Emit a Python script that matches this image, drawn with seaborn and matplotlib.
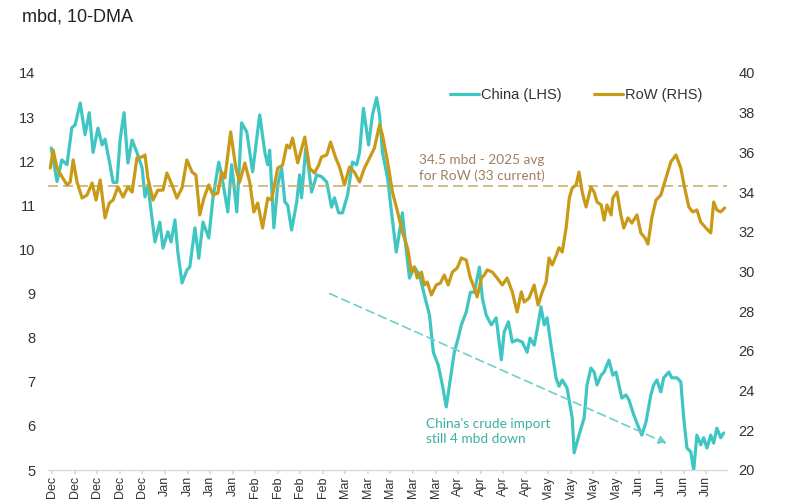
import matplotlib
matplotlib.use("Agg")
import matplotlib.pyplot as plt
import seaborn as sns
import pandas as pd

# ---------------- data ----------------
title = "mbd, 10-DMA"
month_ticks = ["Dec"] * 5 + ["Jan"] * 4 + ["Feb"] * 4 + ["Mar"] * 5 + ["Apr"] * 4 + ["May"] * 4 + ["Jun"] * 4

# days since Mon 2 Dec 2024
china_day = [-0.3, 1.5, 3.0, 4.6, 6.1, 7.1, 8.7, 10.2, 11.5, 12.7, 14.2, 15.5, 16.4, 18.0, 18.9, 20.1,
             21.1, 22.3, 23.5, 24.8, 26.3, 27.9, 28.8, 29.7, 31.9, 33.4, 34.4, 35.9, 36.9, 38.1, 39.0,
             40.3, 41.8, 42.7, 44.3, 45.5, 46.8, 48.6, 49.9, 51.7, 52.6, 54.5, 55.7, 57.3, 58.8, 60.4,
             62.2, 64.4, 66.0, 66.9, 67.5, 68.8, 70.0, 71.2, 72.2, 73.1, 74.3, 75.9, 76.8, 77.4, 78.7,
             79.6, 80.5, 82.1, 83.6, 85.2, 86.7, 87.6, 88.9, 90.1, 91.7, 93.2, 94.5, 95.4, 96.6, 98.2,
             99.4, 100.7, 101.6, 102.5, 104.1, 105.3, 106.8, 107.8, 108.7, 109.6, 110.9, 112.4, 114.0,
             115.5, 117.1, 118.3, 119.8, 121.1, 122.3, 123.3, 124.8, 126.0, 127.0, 128.5, 129.8, 131.0,
             132.6, 133.5, 134.7, 136.3, 137.8, 139.4, 140.3, 141.6, 142.8, 144.3, 145.9, 147.4, 148.3,
             149.6, 150.8, 151.7, 152.7, 153.6, 154.8, 156.4, 157.3, 158.3, 159.8, 161.4, 162.0, 163.5,
             165.1, 166.0, 167.2, 168.2, 169.1, 170.4, 171.3, 172.8, 174.0, 175.0, 175.9, 176.8, 178.1,
             179.0, 180.5, 182.1, 183.0, 184.3, 185.8, 186.7, 187.7, 188.9, 189.8, 191.4, 192.3, 193.9,
             195.1, 196.0, 197.0, 198.2, 199.1, 200.1, 201.3, 202.2, 203.2, 204.4, 205.3, 206.3, 207.5,
             208.4]
china_val = [12.30, 11.54, 12.03, 11.92, 12.76, 12.82, 13.32, 12.60, 13.10, 12.20, 12.75, 12.37, 12.50,
             11.90, 11.52, 11.52, 12.50, 13.10, 11.96, 12.48, 12.20, 11.85, 11.19, 11.46, 10.17, 10.62,
             10.03, 10.40, 10.17, 10.67, 9.94, 9.24, 9.53, 9.60, 10.49, 9.80, 10.62, 10.26, 11.17, 11.98,
             11.69, 10.85, 11.92, 10.85, 12.87, 12.66, 11.76, 13.05, 12.20, 11.92, 12.25, 10.49, 11.46,
             11.85, 11.08, 11.00, 10.44, 11.08, 11.69, 11.17, 12.30, 11.85, 11.30, 11.69, 11.65, 11.53,
             10.96, 11.17, 10.83, 10.83, 11.24, 11.98, 11.92, 12.20, 13.20, 12.37, 13.05, 13.44, 13.05,
             12.20, 11.62, 10.85, 9.94, 10.40, 10.83, 10.17, 9.35, 9.60, 9.42, 8.97, 8.51, 7.67, 7.38,
             6.93, 6.43, 6.93, 7.67, 7.99, 8.29, 8.58, 9.03, 9.03, 9.60, 8.90, 8.51, 8.29, 8.45, 7.50,
             8.13, 8.36, 7.90, 7.95, 7.90, 7.67, 7.99, 7.83, 8.29, 8.70, 8.29, 8.45, 7.83, 7.08, 6.90,
             7.04, 6.86, 6.18, 5.39, 5.79, 6.18, 6.93, 7.31, 7.22, 6.93, 7.15, 7.22, 7.49, 7.15, 7.22,
             6.93, 6.63, 6.70, 6.59, 6.25, 5.95, 5.79, 6.09, 6.70, 6.93, 7.04, 6.77, 7.09, 7.22, 7.09,
             7.09, 7.00, 6.18, 5.50, 5.41, 5.00, 5.79, 5.57, 5.73, 5.50, 5.79, 5.61, 5.95, 5.73, 5.84]

row_day = [-0.6, 0.3, 1.5, 3.1, 4.6, 5.6, 6.5, 7.7, 9.3, 10.8, 12.4, 13.6, 14.9, 16.4, 17.7, 18.9, 20.4,
           22.0, 23.5, 24.8, 26.3, 27.9, 28.8, 29.7, 31.3, 32.8, 34.4, 35.6, 37.2, 38.7, 40.3, 41.8, 43.4,
           44.6, 45.8, 47.1, 48.6, 49.9, 51.4, 52.6, 53.6, 55.4, 57.0, 58.2, 59.8, 61.3, 62.6, 63.8, 65.3,
           66.9, 68.1, 70.0, 71.5, 72.8, 73.7, 74.6, 76.2, 78.4, 79.9, 81.4, 82.7, 83.6, 85.2, 86.4, 88.0,
           89.2, 90.7, 92.3, 93.8, 95.4, 96.9, 98.5, 100.0, 101.6, 102.5, 104.1, 105.6, 107.2, 108.7,
           110.3, 111.5, 112.4, 113.3, 114.6, 115.5, 116.4, 117.7, 119.2, 120.5, 121.7, 122.9, 124.2,
           125.7, 127.0, 128.5, 129.8, 131.0, 131.9, 133.2, 134.1, 135.0, 136.6, 138.1, 139.7, 141.2,
           142.8, 144.3, 145.6, 146.5, 148.0, 149.6, 150.8, 152.1, 153.3, 154.2, 155.2, 156.4, 157.3,
           158.3, 159.5, 160.5, 161.4, 162.6, 163.5, 164.5, 165.7, 167.2, 168.2, 169.1, 170.4, 171.3,
           172.2, 173.5, 174.0, 175.3, 176.5, 177.4, 178.7, 179.9, 181.5, 182.7, 184.0, 184.9, 186.1,
           187.4, 188.9, 190.5, 192.0, 193.6, 195.1, 196.3, 197.6, 198.8, 200.1, 201.3, 202.9, 204.4,
           205.3, 206.3, 207.5, 208.7]
row_val = [35.21, 36.12, 35.21, 34.76, 34.36, 34.51, 35.62, 34.51, 33.70, 33.85, 34.46, 33.60, 34.61,
           32.70, 33.45, 33.60, 34.26, 33.75, 34.26, 34.00, 35.72, 35.77, 35.87, 34.71, 33.60, 34.10,
           34.10, 34.96, 34.36, 33.70, 34.21, 35.62, 35.01, 34.86, 32.85, 33.70, 34.36, 33.85, 33.95,
           35.01, 34.71, 37.03, 35.21, 34.51, 35.47, 34.51, 33.00, 33.45, 32.19, 33.70, 33.60, 35.21,
           35.36, 36.37, 36.22, 36.72, 35.47, 36.77, 35.21, 34.96, 35.36, 35.77, 35.87, 36.52, 35.72,
           35.26, 34.36, 35.26, 35.01, 34.51, 35.21, 35.72, 36.22, 37.38, 36.88, 35.52, 34.00, 33.00,
           31.99, 31.18, 29.97, 30.23, 29.67, 29.97, 29.32, 29.47, 28.82, 29.32, 29.42, 29.82, 29.32,
           29.97, 30.18, 30.68, 30.58, 29.67, 29.17, 28.72, 29.67, 29.82, 30.08, 29.97, 29.67, 29.32,
           29.67, 28.97, 27.96, 28.97, 28.46, 28.66, 29.32, 28.31, 28.97, 29.47, 30.68, 30.33, 30.80,
           31.20, 30.98, 32.19, 33.70, 34.21, 34.36, 35.01, 34.00, 33.25, 34.26, 34.00, 33.50, 33.35,
           32.59, 33.35, 32.85, 33.70, 34.00, 32.85, 32.19, 32.70, 32.44, 32.85, 31.94, 31.69, 31.38,
           32.70, 33.60, 33.85, 34.71, 35.52, 35.87, 35.21, 34.21, 33.25, 33.00, 33.10, 32.49, 32.19,
           31.94, 33.50, 33.10, 33.00, 33.20]

row_avg = 34.3
arrow_start = (86.1, 9.0)   # (day, China mbd)
arrow_end = (190.8, 5.6)

china_color = "#3FC6C3"
row_color = "#C99A17"

df_china = pd.DataFrame({"day": china_day, "mbd": china_val})
df_row = pd.DataFrame({"day": row_day, "mbd": row_val})

# ---------------- style ----------------
sns.set_theme(style="white")
plt.rcParams["font.family"] = ["Liberation Sans Narrow", "Liberation Sans", "DejaVu Sans"]

fig = plt.figure(figsize=(8, 5), dpi=100)
ax = fig.add_axes([0.06, 0.06, 0.849, 0.794])
ax2 = ax.twinx()

sns.lineplot(data=df_china, x="day", y="mbd", ax=ax, color=china_color, lw=2.3,
             label="China (LHS)", legend=False)
sns.lineplot(data=df_row, x="day", y="mbd", ax=ax2, color=row_color, lw=2.3,
             label="RoW (RHS)", legend=False)

ax.set_xlim(-1.3, 209.5)
ax.set_ylim(5, 14)
ax2.set_ylim(20, 40)

# average line
ax2.axhline(row_avg, color="#CDAE6E", lw=1.2, ls=(0, (6, 3)), zorder=1)

for a in (ax, ax2):
    for s in a.spines.values():
        s.set_visible(False)
    a.set_xlabel("")
    a.set_ylabel("")
ax.spines["bottom"].set_visible(True)
ax.spines["bottom"].set_color("#D9D9D9")
ax.spines["bottom"].set_linewidth(1.0)

ax.set_xticks([7 * i for i in range(len(month_ticks))])
ax.set_xticklabels(month_ticks, rotation=90, fontsize=9, color="#333333")
ax.tick_params(axis="x", length=3, color="#D9D9D9", pad=1.5, bottom=True)
ax.set_yticks(range(5, 15))
ax.tick_params(axis="y", length=0, labelsize=10.5, labelcolor="#333333", pad=9)
ax2.set_yticks(range(20, 41, 2))
ax2.tick_params(axis="y", length=0, labelsize=10.5, labelcolor="#333333", pad=8)
ax.grid(False)
ax2.grid(False)

# annotations
ax2.text(114, 35.2, "34.5 mbd - 2025 avg\nfor RoW (33 current)", color="#A07E62",
         fontsize=9.8, family=["Lato", "DejaVu Sans"], va="center", ha="left", linespacing=1.3)
ax.text(116, 5.88, "China's crude import\nstill 4 mbd down", color="#3BAFA3",
        fontsize=9.8, family=["Lato", "DejaVu Sans"], va="center", ha="left", linespacing=1.3)
ax.annotate("", xy=arrow_end, xytext=arrow_start,
            arrowprops=dict(arrowstyle="-|>", color="#6CCFC9", lw=1.2, ls=(0, (5, 3)),
                            mutation_scale=12, shrinkA=0, shrinkB=0))

# legend
h1 = ax.get_lines()[0]
h2 = ax2.get_lines()[0]
leg = ax2.legend([h1, h2], ["China (LHS)", "RoW (RHS)"], loc="center",
                 bbox_to_anchor=(0.778, 0.945), ncol=2, frameon=False, fontsize=10.5,
                 handlelength=2.0, handletextpad=0.15, columnspacing=2.2)
for t in leg.get_texts():
    t.set_color("#333333")

fig.text(0.027, 0.966, title, fontsize=13, color="#222222", family=["Liberation Sans", "DejaVu Sans"],
         va="center", ha="left")

fig.savefig("out.png", dpi=100, facecolor="white")
